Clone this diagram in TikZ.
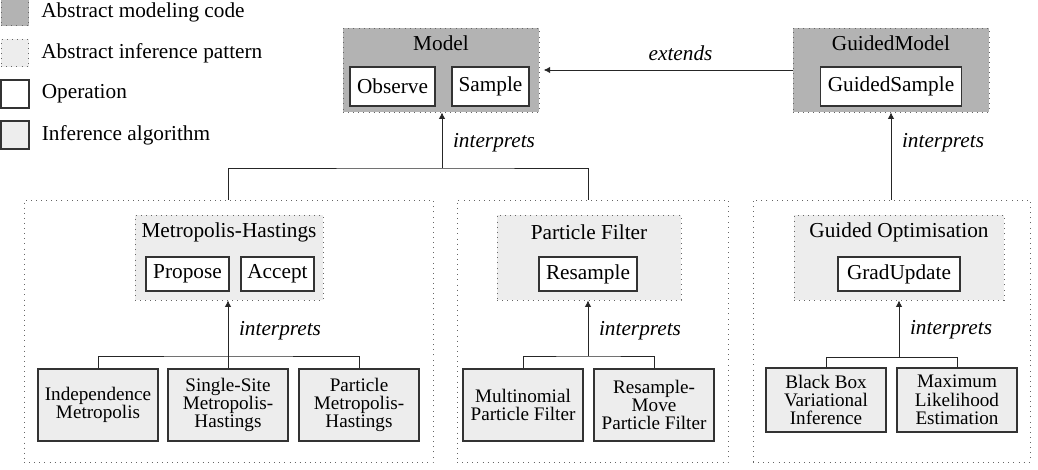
\documentclass[tikz,border=0pt]{standalone}
\usepackage{fontspec}
\setmainfont{Liberation Serif}
\usetikzlibrary{arrows.meta,positioning,fit}

\definecolor{absgray}{HTML}{B3B3B3}
\definecolor{patgray}{HTML}{EDEDED}

\tikzset{
  absbox/.style={draw=black!60, dotted, fill=absgray, inner sep=0pt},
  patbox/.style={draw=black!60, dotted, fill=patgray, inner sep=0pt},
  groupbox/.style={draw=black!60, dotted, inner sep=0pt},
  op/.style={draw=black!80, fill=white, thick, inner sep=0pt, minimum height=16pt},
  algo/.style={draw=black!80, fill=patgray, thick, inner sep=0pt, align=center,
    minimum width=56.4pt, minimum height=33.8pt, font=\fontsize{9}{8.6}\selectfont},
  title/.style={inner sep=0pt},
  lbl/.style={font=\itshape, inner sep=0pt},
  conn/.style={draw=black!85, -{Latex[length=3pt,width=3pt]}},
  line/.style={draw=black!85},
  legsq/.style={minimum size=13pt, inner sep=0pt},
  legtext/.style={inner sep=0pt}
}

\begin{document}
\begin{tikzpicture}[x=0.47pt,y=-0.47pt]
  \useasboundingbox (0,0) rectangle (1038,469);

  % legend
  \node[legsq, absbox] (lgA) at (15,12) {};
  \node[legsq, patbox] (lgB) at (15,53) {};
  \node[legsq, draw=black!80, thick] (lgC) at (15,94) {};
  \node[legsq, draw=black!80, thick, fill=patgray] (lgD) at (15,135) {};
  \node[legtext, right=5.5pt of lgA] {Abstract modeling code};
  \node[legtext, right=5.5pt of lgB] {Abstract inference pattern};
  \node[legtext, right=5.5pt of lgC] {Operation};
  \node[legtext, right=5.5pt of lgD] {Inference algorithm};

  % abstract modeling code
  \node[absbox, fit={(343,28) (539,112)}] (model) {};
  \node[title] (modelT) at (441,43) {Model};
  \node[op, minimum width=40pt, minimum height=18.3pt] (observe) at (392.5,86.5) {Observe};
  \node[op, minimum width=36.2pt, minimum height=18.3pt] (sample) at (490.5,86.5) {Sample};

  \node[absbox, fit={(793,28) (989,112)}] (gm) {};
  \node[title] (gmT) at (891,43) {GuidedModel};
  \node[op, minimum width=66.3pt, minimum height=18.3pt] (gsample) at (891,86.5) {GuidedSample};

  % groups
  \node[groupbox, fit={(24,200) (433,462)}] (mhGroup) {};
  \node[groupbox, fit={(457,200) (728,462)}] (pfGroup) {};
  \node[groupbox, fit={(753,200) (1030,462)}] (goGroup) {};

  % abstract inference patterns
  \node[patbox, fit={(135,215) (323,300)}] (mh) {};
  \node[title] (mhT) at (229,232) {Metropolis-Hastings};
  \node[op, minimum width=39pt] (propose) at (187.5,274) {Propose};
  \node[op, minimum width=34.3pt] (accept) at (277.5,274) {Accept};

  \node[patbox, fit={(497,215) (681,300)}] (pf) {};
  \node[title] (pfT) at (589,232) {Particle Filter};
  \node[op, minimum width=46pt] (resample) at (588,274) {Resample};

  \node[patbox, fit={(794,215) (1004,300)}] (go) {};
  \node[title] (goT) at (899,232) {Guided Optimisation};
  \node[op, minimum width=57.3pt] (gradupd) at (899,274) {GradUpdate};

  % inference algorithms
  \node[algo] (indep) at (98,405) {Independence\\Metropolis};
  \node[algo] (ssmh) at (228,405) {Single-Site\\Metropolis-\\Hastings};
  \node[algo] (pmh) at (359,405) {Particle\\Metropolis-\\Hastings};
  \node[algo] (mnpf) at (523,405) {Multinomial\\Particle Filter};
  \node[algo] (rmpf) at (654,405) {Resample-\\Move\\Particle Filter};
  \node[algo, minimum height=30.1pt] (bbvi) at (826,400) {Black Box\\Variational\\Inference};
  \node[algo, minimum height=30.1pt] (mle) at (957,400) {Maximum\\Likelihood\\Estimation};

  % connectors
  \coordinate (topJ) at (442,168);
  \coordinate (mhJ) at (228,356);
  \coordinate (pfJ) at (588,356);
  \coordinate (goJ) at (899,357);

  \draw[conn] (gm.west) -- node[lbl, above=4pt, pos=0.45] {extends} ([xshift=2pt]model.east);
  \draw[line] (mhGroup.north) |- (topJ) -| (pfGroup.north -| pfJ);
  \draw[conn] (topJ) -- node[lbl, right=5pt, pos=0.46] {interprets} (model.south -| topJ);
  \draw[conn] (goGroup.north -| gm.south) -- node[lbl, right=5pt, pos=0.65] {interprets} (gm.south);

  \draw[line] (indep.north) |- (mhJ) -| (pmh.north);
  \draw[conn] (ssmh.north) -- node[lbl, right=5pt, pos=0.56] {interprets} (mh.south -| ssmh.north);
  \draw[line] (mnpf.north) |- (pfJ) -| (rmpf.north);
  \draw[conn] (pfJ) -- node[lbl, right=5pt, pos=0.46] {interprets} (pf.south -| pfJ);
  \draw[line] (bbvi.north) |- (goJ) -| (mle.north);
  \draw[conn] (goJ) -- node[lbl, right=5pt, pos=0.48] {interprets} (go.south);
\end{tikzpicture}
\end{document}
